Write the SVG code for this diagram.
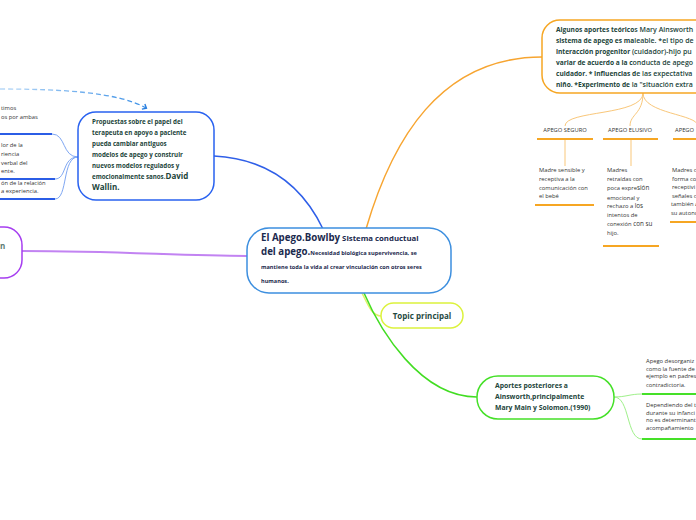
<svg xmlns="http://www.w3.org/2000/svg" width="696" height="520" viewBox="0 0 696 520">
<defs>
<style>
.t{font-family:"Open Sans","Noto Sans","Liberation Sans",sans-serif}
.b{font-weight:700}
.sm{font-family:"Open Sans","Noto Sans","Liberation Sans",sans-serif;font-size:5.8px;fill:#333}
.nav{fill:#1b2a4e}
.grn{fill:#22443a}
.node{fill:#fff;stroke-width:1.5}
.ul-b{stroke:#2b5de6;stroke-width:2;fill:none}
.ul-o{stroke:#f6a623;stroke-width:2;fill:none}
.ul-g{stroke:#45e028;stroke-width:2;fill:none}
</style>
<linearGradient id="dash" x1="0" y1="0" x2="1" y2="0">
<stop offset="0" stop-color="#b9d9f7"/>
<stop offset="1" stop-color="#3a8fe6"/>
</linearGradient>
<marker id="chev" markerWidth="8" markerHeight="8" refX="4" refY="4" orient="auto" markerUnits="userSpaceOnUse">
<path d="M1,1 L4.5,4 L1,7" fill="none" stroke="#2a7fe0" stroke-width="1.4"/>
</marker>
</defs>
<rect width="696" height="520" fill="#fff"/>

<g id="connectors" fill="none">
<path d="M0,89 C60,89 118,92 146,108" stroke="url(#dash)" stroke-width="1.3" stroke-dasharray="5,3" marker-end="url(#chev)"/>
<path d="M214,156 Q290,160 323,229" stroke="#2f5fe8" stroke-width="1.5"/>
<path d="M22,251 C120,251 180,256 247,256" stroke="#c283f2" stroke-width="2"/>
<path d="M366,229 C392,140 440,57 542,57" stroke="#f7a531" stroke-width="1.5"/>
<path d="M362,293 C368,305 372,316 381,316" stroke="#dff26a" stroke-width="1.5"/>
<path d="M364,293 C380,330 420,397 477,397" stroke="#42dd22" stroke-width="1.5"/>
<path d="M52,134 C66,134 62,157 78,157" stroke="#7ea6f2" stroke-width="1"/>
<path d="M55,179 C67,179 62,157 78,157" stroke="#7ea6f2" stroke-width="1"/>
<path d="M55,199 C68,199 62,157 78,157" stroke="#7ea6f2" stroke-width="1"/>
<path d="M643,93 C643,116 565,110 565,126" stroke="#f9c77a" stroke-width="1"/>
<path d="M643,93 C643,114 630,114 630,126" stroke="#f9c77a" stroke-width="1"/>
<path d="M643,93 C643,114 698,114 698,126" stroke="#f9c77a" stroke-width="1"/>
<path d="M565,140 V166" stroke="#f9c77a" stroke-width="1"/>
<path d="M631,140 V166" stroke="#f9c77a" stroke-width="1"/>
<path d="M614,397 C626,397 630,394 642,394" stroke="#9ff08a" stroke-width="1"/>
<path d="M614,397 C630,397 626,439 642,439" stroke="#9ff08a" stroke-width="1"/>
</g>

<g id="central">
<rect class="node" x="247" y="228" width="204" height="65" rx="22" stroke="#3d8fdf"/>
<text class="t b nav" x="261" y="241"><tspan font-size="9.7">El Apego.Bowlby</tspan><tspan font-size="7.8"> Sistema conductual</tspan></text>
<text class="t b nav" x="261" y="255"><tspan font-size="9.7">del apego.</tspan><tspan font-size="5.7">Necesidad biológica supervivencia, se</tspan></text>
<text class="t b nav" x="261" y="269" font-size="5.6">mantiene toda la vida al  crear vinculación con otros seres</text>
<text class="t b nav" x="261" y="283" font-size="5.6">humanos.</text>
</g>

<g id="propuesta">
<rect class="node" x="78" y="112" width="136" height="88" rx="18" stroke="#2962f0"/>
<g class="t b grn" font-size="6.2">
<text x="92" y="124">Propuestas sobre el papel del</text>
<text x="92" y="135">terapeuta en apoyo a paciente</text>
<text x="92" y="146">pueda  cambiar antiguos</text>
<text x="92" y="157">modelos de apego y construir</text>
<text x="92" y="168">nuevos modelos regulados y</text>
<text x="92" y="179">emocionalmente sanos.<tspan font-size="8">David</tspan></text>
<text x="92" y="190" font-size="8">Wallin.</text>
</g>
</g>

<g id="left-notes">
<text class="sm" x="1" y="110">timos</text>
<text class="sm" x="1" y="119">os por ambas</text>
<path class="ul-b" d="M0,134 H52"/>
<text class="sm" x="1" y="147">lor de la</text>
<text class="sm" x="1" y="156">riencia</text>
<text class="sm" x="1" y="164.5">verbal del</text>
<text class="sm" x="1" y="173">ente.</text>
<path class="ul-b" d="M0,179 H55"/>
<text class="sm" x="1" y="185">ón de la relación</text>
<text class="sm" x="1" y="193">a experiencia.</text>
<path class="ul-b" d="M0,199 H55"/>
</g>

<g id="left-node">
<rect class="node" x="-40" y="227" width="62" height="51" rx="18" stroke="#a63ef0"/>
<text class="t b" x="0" y="249" font-size="8" fill="#5b7a72">n</text>
</g>

<g id="aportes-teoricos">
<rect class="node" x="542" y="20" width="180" height="73" rx="18" stroke="#f6a623"/>
<g class="t grn">
<text x="556" y="32"><tspan class="b" font-size="6.6">Algunos aportes teórico</tspan><tspan font-weight="600" font-size="7">s Mary Ainsworth</tspan></text>
<text x="556" y="43"><tspan class="b" font-size="6.6">sistema de apego es ma</tspan><tspan font-weight="600" font-size="7">leable.  *el tipo de</tspan></text>
<text x="556" y="54"><tspan class="b" font-size="6.6">interacción progenitor </tspan><tspan font-weight="600" font-size="7">(cuidador)-hijo pu</tspan></text>
<text x="556" y="65"><tspan class="b" font-size="6.6">variar de acuerdo a la c</tspan><tspan font-weight="600" font-size="7">onducta de apego</tspan></text>
<text x="556" y="76"><tspan class="b" font-size="6.6">cuidador. * Influencias d</tspan><tspan font-weight="600" font-size="7">e las expectativa</tspan></text>
<text x="556" y="87"><tspan class="b" font-size="6.6">niño. *Experimento de </tspan><tspan font-weight="600" font-size="7">la &quot;situación extra</tspan></text>
</g>
</g>

<g id="apego-seguro">
<text class="sm" x="565" y="132" text-anchor="middle">APEGO SEGURO</text>
<path class="ul-o" d="M537,139 H593"/>
<text class="sm" x="539" y="172">Madre sensible y</text>
<text class="sm" x="539" y="181">receptiva a la</text>
<text class="sm" x="539" y="189.5">comunicación con</text>
<text class="sm" x="539" y="198">el bebé</text>
<path class="ul-o" d="M535,205 H594"/>
</g>

<g id="apego-elusivo">
<text class="sm" x="630" y="132" text-anchor="middle">APEGO ELUSIVO</text>
<path class="ul-o" d="M603,139 H658"/>
<text class="sm" x="607" y="172">Madres</text>
<text class="sm" x="607" y="181">retraídas  con</text>
<text class="sm" x="607" y="190">poca expre<tspan font-size="6.3">sión</tspan></text>
<text class="sm" x="607" y="199.5">emocional y</text>
<text class="sm" x="607" y="208">rechazo a <tspan font-size="6.3">los</tspan></text>
<text class="sm" x="607" y="217">intentos de</text>
<text class="sm" x="607" y="226">conexión <tspan font-size="6.3">con su</tspan></text>
<text class="sm" x="607" y="235">hijo.</text>
<path class="ul-o" d="M603,246 H659"/>
</g>

<g id="apego-tercero">
<text class="sm" x="675" y="132">APEGO</text>
<path class="ul-o" d="M673,139 H700"/>
<text class="sm" x="672" y="172">Madres c</text>
<text class="sm" x="672" y="181">forma co</text>
<text class="sm" x="672" y="189">receptivi</text>
<text class="sm" x="672" y="197.5">señales c</text>
<text class="sm" x="671" y="206" font-size="4.8">también a</text>
<text class="sm" x="671" y="214.5" font-size="4.8">su autono</text>
<path class="ul-o" d="M670,222 H700"/>
</g>

<g id="topic-principal">
<rect class="node" x="381" y="303" width="82" height="25" rx="12.5" stroke="#dcf23c"/>
<text class="t b" x="422" y="318.5" font-size="8" fill="#1f4a3f" text-anchor="middle">Topic principal</text>
</g>

<g id="aportes-posteriores">
<rect class="node" x="477" y="376" width="137" height="43" rx="21" stroke="#45e028"/>
<g class="t b grn" font-size="6.8">
<text x="495" y="388">Aportes posteriores a</text>
<text x="495" y="399">Ainsworth,principalmente</text>
<text x="495" y="410">Mary Main y Solomon.(1990)</text>
</g>
</g>

<g id="notas-posteriores">
<text class="sm" x="646" y="363">Apego desorganiz</text>
<text class="sm" x="646" y="370.5">como la fuente de</text>
<text class="sm" x="646" y="378">ejemplo en padres</text>
<text class="sm" x="646" y="386.5">contradictoria.</text>
<path class="ul-g" d="M642,394 H700"/>
<text class="sm" x="646" y="407">Dependiendo del t</text>
<text class="sm" x="646" y="414.5">durante su infanci</text>
<text class="sm" x="646" y="422">no es determinant</text>
<text class="sm" x="646" y="429.5">acompañamiento</text>
<path class="ul-g" d="M642,439 H700"/>
</g>
</svg>
